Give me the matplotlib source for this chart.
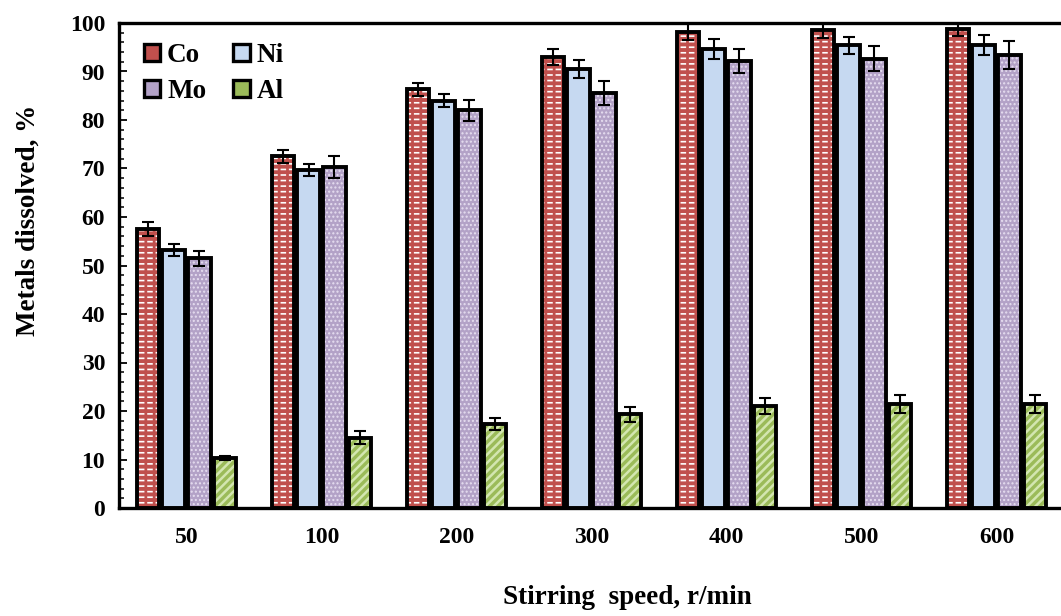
import numpy as np
import matplotlib
matplotlib.use("Agg")
import matplotlib.pyplot as plt
from matplotlib.ticker import MultipleLocator
from matplotlib.patches import Patch

plt.rcParams['font.family'] = ['Liberation Serif', 'DejaVu Serif']
plt.rcParams['font.weight'] = 'bold'

speeds = ["50", "100", "200", "300", "400", "500", "600"]
metals = ["Co", "Ni", "Mo", "Al"]

co = [57.5, 72.5, 86.3, 93.0, 98.2, 98.6, 98.8]
ni = [53.2, 69.7, 84.0, 90.5, 94.6, 95.4, 95.5]
mo = [51.5, 70.3, 82.0, 85.6, 92.2, 92.6, 93.4]
al = [10.3, 14.5, 17.3, 19.3, 21.0, 21.4, 21.4]

co_err = [1.5, 1.3, 1.4, 1.7, 1.8, 1.6, 1.5]
ni_err = [1.2, 1.3, 1.4, 1.8, 2.0, 1.7, 2.0]
mo_err = [1.5, 2.2, 2.2, 2.5, 2.5, 2.6, 2.9]
al_err = [0.5, 1.3, 1.3, 1.6, 1.6, 1.8, 1.8]

values = [co, ni, mo, al]
errors = [co_err, ni_err, mo_err, al_err]
fills = ["#c0504d", "#c6d9f1", "#b3a2c7", "#9bbb59"]
# (hatch pattern, hatch colour, hatch line width) layers drawn over each fill
layers = [
    [("---", "white", 1.2), ("||", "#c0504d", 2.0)],
    [],
    [("....", "#e6def0", 1.0)],
    [("////", "#d3e6b0", 1.8)],
]

fig = plt.figure(figsize=(10.61, 6.16), dpi=100)
ax = fig.add_axes([119 / 1061, 1 - 508 / 616, 945 / 1061, 485 / 616])

x = np.arange(len(speeds))
step = 0.19
width = 0.168
for i, (vals, errs) in enumerate(zip(values, errors)):
    pos = x + (i - 1.5) * step
    ax.bar(pos, vals, width, color=fills[i], linewidth=0, zorder=2)
    for hatch, hcol, hlw in layers[i]:
        with plt.rc_context({"hatch.linewidth": hlw}):
            ax.bar(pos, vals, width, fill=False, edgecolor=hcol,
                   hatch=hatch, linewidth=0, zorder=2)
    ax.bar(pos, vals, width, fill=False, edgecolor="black", linewidth=2.8, zorder=3)
    ax.errorbar(pos, vals, yerr=errs, fmt="none", ecolor="black",
                elinewidth=1.5, capsize=4.5, capthick=1.5, zorder=4)

ax.set_xlim(-0.5, len(speeds) - 0.5)
ax.set_ylim(0, 100)
ax.set_xticks(x)
ax.set_xticklabels(speeds)
ax.tick_params(axis="x", length=0, pad=14, labelsize=17)
ax.yaxis.set_major_locator(MultipleLocator(10))
ax.yaxis.set_minor_locator(MultipleLocator(2))
ax.tick_params(axis="y", which="major", direction="in", length=6, width=1.3, labelsize=17, pad=10)
ax.tick_params(axis="y", which="minor", direction="in", length=3.5, width=1.1)
for s in ax.spines.values():
    s.set_linewidth(2.4)

ax.set_ylabel("Metals dissolved, %", fontsize=19.5, fontweight="bold")
ax.yaxis.set_label_coords(-0.083, 0.594)
ax.set_xlabel("Stirring  speed, r/min", fontsize=19.5, fontweight="bold")
ax.xaxis.set_label_coords(0.5376, -0.158)

handles = [Patch(facecolor=fills[i], edgecolor="black", linewidth=2.4, label=metals[i])
           for i in range(4)]
order = [0, 2, 1, 3]
ax.legend(handles=[handles[k] for k in order],
          labels=[metals[k] for k in order],
          ncol=2, loc="upper left", frameon=False, fontsize=19.5,
          handlelength=0.6, handleheight=0.6, handletextpad=0.25,
          columnspacing=1.0, labelspacing=0.4, borderpad=0.25,
          bbox_to_anchor=(0.005, 1.0))

fig.savefig("out.png", dpi=100)
